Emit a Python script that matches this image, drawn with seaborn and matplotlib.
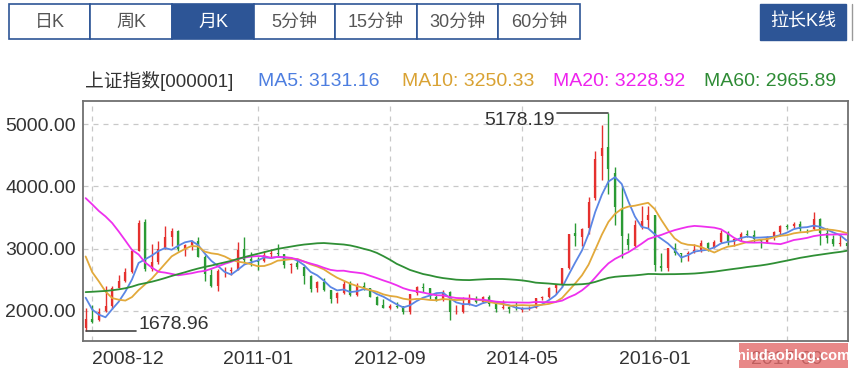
import numpy as np
import pandas as pd
import matplotlib
matplotlib.use("Agg")
import matplotlib.pyplot as plt
from matplotlib.patches import Rectangle
from matplotlib.lines import Line2D
import seaborn as sns

# monthly K-line, 2008-11 .. 2018-06
opens = [
    1719.8, 1878.0,
    1849.0, 1991.8, 2073.0, 2375.0, 2480.0, 2630.0, 2966.0, 3430.0, 2667.0, 2789.0, 3004.0, 3185.0,
    3289.0, 2980.0, 3060.0, 3125.0, 2860.0, 2575.0, 2396.0, 2636.0, 2641.0, 2660.0, 2990.0, 2830.0,
    2825.0, 2799.0, 2909.0, 2932.0, 2910.0, 2742.0, 2765.0, 2703.0, 2564.0, 2363.0, 2470.0, 2339.0,
    2212.0, 2285.0, 2431.0, 2262.0, 2401.0, 2370.0, 2226.0, 2100.0, 2046.0, 2087.0, 2072.0, 1983.0,
    2289.0, 2387.0, 2370.0, 2227.0, 2178.0, 2311.0, 1993.0, 1990.0, 2096.0, 2176.0, 2144.0, 2223.0,
    2112.0, 2043.0, 2056.0, 2032.0, 2023.0, 2037.0, 2049.0, 2203.0, 2217.0, 2364.0, 2420.0, 2684.0,
    3258.0, 3182.0, 3328.0, 3810.0, 4480.0, 4633.0, 4214.0, 3643.0, 3157.0, 3036.0, 3371.0, 3456.0,
    3536.0, 2730.0, 2688.0, 3015.0, 2927.0, 2917.0, 2924.0, 2962.0, 3089.0, 3018.0, 3104.0, 3247.0,
    3105.0, 3150.0, 3242.0, 3219.0, 3143.0, 3112.0, 3192.0, 3274.0, 3361.0, 3358.0, 3394.0, 3308.0,
    3314.0, 3478.0, 3255.0, 3163.0, 3072.0, 3084.0,
]
highs = [
    2051.8, 2100.8,
    2045.0, 2402.0, 2400.3, 2579.7, 2688.0, 2990.0, 3454.0, 3478.0, 3068.0, 3123.0, 3361.0, 3334.0,
    3306.0, 3074.0, 3140.0, 3181.7, 2901.0, 2670.0, 2670.0, 2700.0, 2700.0, 3100.0, 3186.7, 2940.0,
    2870.0, 2961.0, 3000.0, 3067.5, 2921.0, 2770.0, 2827.0, 2723.0, 2575.0, 2475.0, 2536.8, 2340.0,
    2300.0, 2478.0, 2478.4, 2453.0, 2461.0, 2373.0, 2234.0, 2190.0, 2111.0, 2140.0, 2085.0, 2276.0,
    2394.0, 2444.8, 2370.0, 2270.0, 2334.0, 2314.0, 2092.0, 2219.0, 2270.3, 2242.0, 2243.0, 2260.0,
    2112.0, 2177.0, 2075.0, 2146.0, 2061.0, 2087.0, 2215.0, 2248.0, 2391.0, 2431.0, 2683.0, 3239.0,
    3406.8, 3331.0, 3835.0, 4572.0, 4986.0, 5178.19, 4317.0, 4006.0, 3256.0, 3459.0, 3678.0, 3684.6,
    3539.0, 2934.0, 3018.0, 3097.0, 2932.0, 2970.0, 3069.0, 3140.0, 3100.0, 3134.0, 3301.0, 3288.0,
    3174.0, 3260.0, 3300.0, 3295.0, 3150.0, 3200.0, 3276.0, 3374.0, 3391.0, 3421.0, 3450.5, 3317.0,
    3587.0, 3495.0, 3333.0, 3220.0, 3219.0, 3114.0,
]
lows = [
    1678.96, 1814.0,
    1844.0, 1985.0, 2037.0, 2366.0, 2461.0, 2603.0, 2966.0, 2639.8, 2639.0, 2760.0, 3000.0, 3039.0,
    2963.0, 2890.0, 2980.0, 2865.0, 2481.0, 2382.0, 2319.7, 2540.0, 2573.0, 2660.0, 2772.0, 2721.0,
    2661.5, 2780.0, 2850.0, 2885.0, 2695.0, 2611.0, 2675.0, 2437.0, 2307.0, 2307.2, 2318.0, 2134.0,
    2132.6, 2265.0, 2242.0, 2246.0, 2330.0, 2219.0, 2100.0, 2040.0, 2029.0, 2054.0, 1949.5, 1959.0,
    2257.0, 2300.0, 2194.0, 2161.0, 2165.0, 1849.7, 1951.0, 1975.0, 2090.0, 2124.0, 2124.0, 2079.0,
    1984.0, 2031.0, 1974.4, 2015.0, 1991.0, 2010.0, 2045.0, 2170.0, 2210.0, 2280.0, 2388.0, 2680.0,
    3049.0, 3049.0, 3233.0, 3785.0, 4099.0, 3875.0, 3373.0, 2850.7, 2983.0, 3030.0, 3322.0, 3327.0,
    2638.3, 2639.0, 2649.0, 2894.0, 2780.0, 2807.0, 2924.0, 2953.0, 2969.0, 3018.0, 3097.0, 3056.0,
    3044.0, 3130.0, 3180.0, 3111.0, 3016.5, 3092.0, 3139.0, 3201.0, 3317.0, 3338.0, 3291.0, 3254.0,
    3306.0, 3062.0, 3091.0, 3041.0, 3041.0, 3000.0,
]
closes = [
    1871.2, 1820.8,
    1990.7, 2082.9, 2373.2, 2477.6, 2632.9, 2959.4, 3412.1, 2667.7, 2779.4, 2995.9, 3195.3, 3277.1,
    2989.3, 3051.9, 3109.1, 2870.6, 2592.2, 2398.4, 2637.5, 2638.8, 2655.7, 2978.8, 2820.2, 2808.1,
    2790.7, 2905.1, 2928.1, 2911.5, 2743.5, 2762.1, 2701.7, 2567.3, 2359.2, 2468.3, 2333.4, 2199.4,
    2292.6, 2428.5, 2262.8, 2396.3, 2372.2, 2225.4, 2103.6, 2047.5, 2086.2, 2068.9, 1980.1, 2269.1,
    2385.4, 2365.6, 2236.6, 2177.9, 2300.6, 1979.2, 1993.8, 2098.4, 2174.7, 2141.6, 2220.5, 2116.0,
    2033.1, 2056.3, 2033.3, 2026.4, 2039.2, 2048.3, 2201.6, 2217.2, 2363.9, 2420.2, 2682.8, 3234.7,
    3210.4, 3310.3, 3747.9, 4441.7, 4611.7, 4277.2, 3663.7, 3206.0, 3052.8, 3382.6, 3445.4, 3539.2,
    2737.6, 2688.0, 3003.9, 2938.3, 2916.6, 2929.6, 2979.3, 3085.5, 3004.7, 3100.5, 3250.0, 3103.6,
    3159.2, 3241.7, 3222.5, 3154.7, 3117.2, 3192.4, 3273.0, 3360.8, 3348.9, 3393.3, 3317.2, 3307.2,
    3480.8, 3259.4, 3168.9, 3082.2, 3095.5, 3049.8,
]
# closes 2003-12 .. 2008-10, only needed to feed the moving averages
closes_before = [
    1497.0,
    1590.7, 1675.1, 1741.6, 1595.6, 1555.9, 1399.2, 1386.2, 1342.1, 1396.7, 1320.5, 1340.8, 1266.5,
    1191.8, 1306.0, 1181.2, 1159.2, 1060.7, 1080.9, 1083.0, 1162.8, 1155.6, 1092.8, 1099.3, 1161.1,
    1258.1, 1299.0, 1298.3, 1440.2, 1641.3, 1672.2, 1612.7, 1658.6, 1752.4, 1838.0, 2099.3, 2675.5,
    2786.3, 2881.1, 3184.0, 3841.3, 4109.7, 3820.7, 4471.0, 5218.8, 5552.3, 5954.8, 4871.8, 5261.6,
    4383.4, 4348.5, 3472.7, 3693.1, 3433.4, 2736.1, 2775.7, 2397.4, 2293.8, 1728.8,
]
ma_windows = [5, 10, 20, 60]
ma_names = ["MA5", "MA10", "MA20", "MA60"]
ma_latest = ["3131.16", "3250.33", "3228.92", "2965.89"]
tick_labels = ["2008-12", "2011-01", "2012-09", "2014-05", "2016-01", "2017-09"]
y_ticks = [2000, 3000, 4000, 5000]
buttons = ["日K", "周K", "月K", "5分钟", "15分钟", "30分钟", "60分钟"]

RED, GREEN = "#e5302e", "#2a9a34"
MA_COLORS = {"MA5": "#5b86e5", "MA10": "#e2a93b", "MA20": "#ee30ee", "MA60": "#2f8f35"}
MA_TEXT = {"MA5": "#4d7ee0", "MA10": "#d9a233", "MA20": "#ee22ee", "MA60": "#2e8b35"}
BLUE = "#2d5596"
W, H = 856, 373


def fx(px):
    return px / W


def fy(py):
    return 1 - py / H


o = np.array(opens)
h = np.array(highs)
l = np.array(lows)
c = np.array(closes)
n = len(c)
x = np.arange(n)
months = pd.period_range("2008-11", periods=n, freq="M").strftime("%Y-%m").tolist()

all_close = pd.Series(closes_before + closes)
ma_df = pd.concat([
    pd.DataFrame({"idx": x, "value": all_close.rolling(w).mean().iloc[-n:].values, "ma": name})
    for w, name in zip(ma_windows, ma_names)
])

sns.set_style("white")
plt.rcParams["font.family"] = ["Liberation Sans", "Noto Sans CJK SC", "DejaVu Sans"]

fig = plt.figure(figsize=(W / 100, H / 100), dpi=100)
ax = fig.add_axes([fx(83), fy(341), (848 - 83) / W, (341 - 101) / H])

# candles: red = up, green = down
up = c >= o
for mask, col in [(up, RED), (~up, GREEN)]:
    ax.vlines(x[mask], l[mask], h[mask], color=col, lw=1.0, zorder=2)
    ax.vlines(x[mask], np.minimum(o, c)[mask], np.maximum(o, c)[mask], color=col, lw=1.6, zorder=2)

sns.lineplot(data=ma_df, x="idx", y="value", hue="ma", hue_order=ma_names,
             palette=MA_COLORS, legend=False, lw=1.3, errorbar=None, ax=ax, zorder=3)

ax.set_xlim(-0.4, n - 1 + 0.2)
ax.set_ylim(1518, 5371)
ax.set_xticks([months.index(t) for t in tick_labels])
ax.set_xticklabels(tick_labels)
ax.get_xticklabels()[0].set_ha("left")
ax.set_yticks(y_ticks)
ax.set_yticklabels([f"{v:.2f}" for v in y_ticks])
ax.set_xlabel(None)
ax.set_ylabel(None)
ax.tick_params(length=0, labelsize=14, colors="#333333")
ax.tick_params(axis="x", pad=7)
ax.tick_params(axis="y", pad=5)
ax.grid(True, ls=(0, (4, 4)), color="#c8c8c8", lw=0.9)
for side in ax.spines.values():
    side.set_color("#707070")
    side.set_linewidth(1.3)

# highest / lowest marks
i_max, i_min = int(np.argmax(h)), int(np.argmin(l))
ax.plot([i_max - 7.8, i_max], [h[i_max], h[i_max]], color="#444444", lw=1.2, zorder=4)
ax.text(i_max - 8.1, h[i_max] + 20, f"{h[i_max]:.2f}", ha="right", va="top",
        fontsize=14, color="#333333")
ax.plot([i_min, i_min + 7.65], [l[i_min], l[i_min]], color="#444444", lw=1.2, zorder=4)
ax.text(i_min + 7.95, l[i_min] + 25, f"{l[i_min]:.2f}", ha="left", va="baseline",
        fontsize=14, color="#333333")

# header: index name and MA values
fig.text(fx(85), fy(81), "上证指数[000001]", ha="left", va="center", fontsize=13.5, color="#333333")
for name, val, left in zip(ma_names, ma_latest, [258, 402, 553, 704]):
    fig.text(fx(left), fy(81), f"{name}: {val}", ha="left", va="center",
             fontsize=14, color=MA_TEXT[name])

# period buttons
edges = [9, 90, 172, 254, 335, 417, 498, 580]
for i, label in enumerate(buttons):
    sel = label == "月K"
    fig.add_artist(Rectangle((fx(edges[i]), fy(39)), (edges[i + 1] - edges[i]) / W, 35 / H,
                             transform=fig.transFigure, fc=BLUE if sel else "white",
                             ec=BLUE, lw=1.2))
    fig.text(fx((edges[i] + edges[i + 1]) / 2), fy(22), label, ha="center", va="center",
             fontsize=13, color="white" if sel else "#555555")
fig.add_artist(Rectangle((fx(760), fy(40)), 86 / W, 36 / H, transform=fig.transFigure,
                         fc=BLUE, ec=BLUE, lw=1))
fig.text(fx(803), fy(22), "拉长K线", ha="center", va="center", fontsize=13, color="white")
fig.add_artist(Line2D([fx(852), fx(852)], [fy(4), fy(40)], color="#999999", lw=1))

# watermark (sits over the last date label, as in the screenshot)
fig.add_artist(Rectangle((fx(739), fy(368)), 109 / W, 25 / H, transform=fig.transFigure,
                         fc="#e36b6b", ec="none", alpha=0.8))
fig.text(fx(794), fy(356), "niudaoblog.com", ha="center", va="center", fontsize=10.5,
         fontweight="bold", color="white")

fig.savefig("out.png", dpi=100)
